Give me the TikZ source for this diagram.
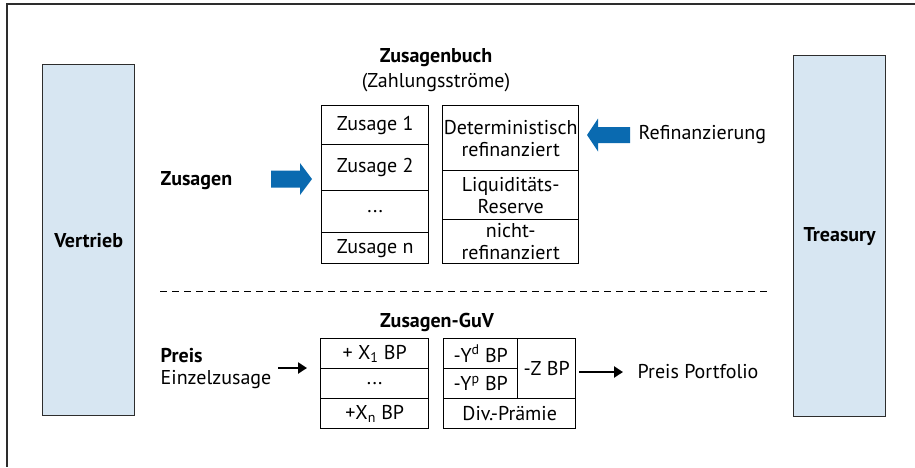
\documentclass[tikz,border=0pt]{standalone}
\usepackage{fontspec}
\setmainfont{PT Sans}
\usetikzlibrary{arrows.meta}

\definecolor{arrowblue}{RGB}{10,106,176}
\definecolor{unitfill}{RGB}{215,230,242}
\definecolor{framegray}{RGB}{45,45,45}

\newcommand{\diagfont}{\fontsize{20}{22}\selectfont}

\tikzset{every picture/.style={line width=1.4pt}}
\tikzset{
	unitbox/.style={draw=framegray,fill=unitfill,anchor=north west,inner sep=0pt,font=\diagfont\bfseries},
	cellbox/.style={draw=black,anchor=north west,inner sep=0pt,align=center},
	txt/.style={anchor=west,inner sep=0pt,align=left},
	headline/.style={inner sep=0pt,font=\diagfont\bfseries},
	blockarrow/.style={fill=arrowblue},
	flowarrow/.style={line width=2.8pt,-{Triangle[length=9pt,width=11pt]}},
	divider/.style={line width=1pt,dash pattern=on 7pt off 5pt}
}

\begin{document}
\begin{tikzpicture}[x=1pt,y=-1pt,font=\diagfont]
		\useasboundingbox (0,0) rectangle (915,467);
		\draw[framegray,line width=1.5pt] (915,4) -- (7,4) -- (7,467);
		% Einheiten links und rechts
		\node[unitbox,minimum width=92pt,minimum height=351pt] (vertrieb) at (42,64) {Vertrieb};
		\node[unitbox,minimum width=92pt,minimum height=361pt] (treasury) at (793,55) {Treasury};
		% Zusagenbuch
		\node[headline] (buch) at (436,58) {Zusagenbuch};
		\node[inner sep=0pt] (zahlung) at (436,83) {(Zahlungsströme)};
		\node[cellbox,minimum width=107pt,minimum height=39pt] (z1) at (321,105) {Zusage 1};
		\node[cellbox,minimum width=107pt,minimum height=46pt] (z2) at (321,144) {Zusage 2};
		\node[cellbox,minimum width=107pt,minimum height=42pt] (zdots) at (321,190) {...};
		\node[cellbox,minimum width=107pt,minimum height=31pt] (zn) at (321,232) {Zusage n};
		\node[cellbox,minimum width=136pt,minimum height=65pt] (det) at (442,105) {Deterministisch\\refinanziert};
		\node[cellbox,minimum width=136pt,minimum height=49pt] (liq) at (442,170) {Liquiditäts-\\Reserve};
		\node[cellbox,minimum width=136pt,minimum height=44pt] (nref) at (442,219) {nicht-\\refinanziert};
		\node[txt,font=\diagfont\bfseries] (zusagen) at (160,181) {Zusagen};
		\node[txt] (refi) at (638,135) {Refinanzierung};
		\coordinate (zarr) at (312,179);
		\coordinate (rarr) at (587,135);
		\fill[blockarrow] (zarr) -- ++(-12,-16) -- ++(0,7.5) -- ++(-29,0) -- ++(0,17) -- ++(29,0) -- ++(0,7.5) -- cycle;
		\fill[blockarrow] (rarr) -- ++(11,-16.5) -- ++(0,8.5) -- ++(32,0) -- ++(0,16) -- ++(-32,0) -- ++(0,8.5) -- cycle;
		% Trennlinie
		\coordinate (dl) at (160,291);
		\coordinate (dr) at (770,291);
		\draw[divider] (dl) -- (dr);
		% Zusagen-GuV
		\node[headline] (guv) at (437,322) {Zusagen-GuV};
		\node[cellbox,minimum width=108pt,minimum height=30pt] (x1) at (320,338) {+ X\textsubscript{1} BP};
		\node[cellbox,minimum width=108pt,minimum height=30pt] (xdots) at (320,368) {...};
		\node[cellbox,minimum width=108pt,minimum height=30pt] (xn) at (320,398) {+X\textsubscript{n} BP};
		\node[cellbox,minimum width=74pt,minimum height=30pt] (yd) at (443,338) {-Y\textsuperscript{d} BP};
		\node[cellbox,minimum width=74pt,minimum height=30pt] (yp) at (443,368) {-Y\textsuperscript{p} BP};
		\node[cellbox,minimum width=58pt,minimum height=60pt] (zbp) at (517,338) {-Z BP};
		\node[cellbox,minimum width=132pt,minimum height=30pt] (div) at (443,398) {Div.-Prämie};
		\node[txt] (preis) at (160,368) {\textbf{Preis}\\Einzelzusage};
		\node[txt] (pport) at (637,372) {Preis Portfolio};
		\draw[flowarrow,shorten <=6pt,shorten >=13pt] (preis.east) -- (preis.east -| x1.west);
		\draw[flowarrow,shorten <=3pt,shorten >=14pt] (zbp.east |- pport.west) -- (pport.west);
	\end{tikzpicture}
\end{document}
